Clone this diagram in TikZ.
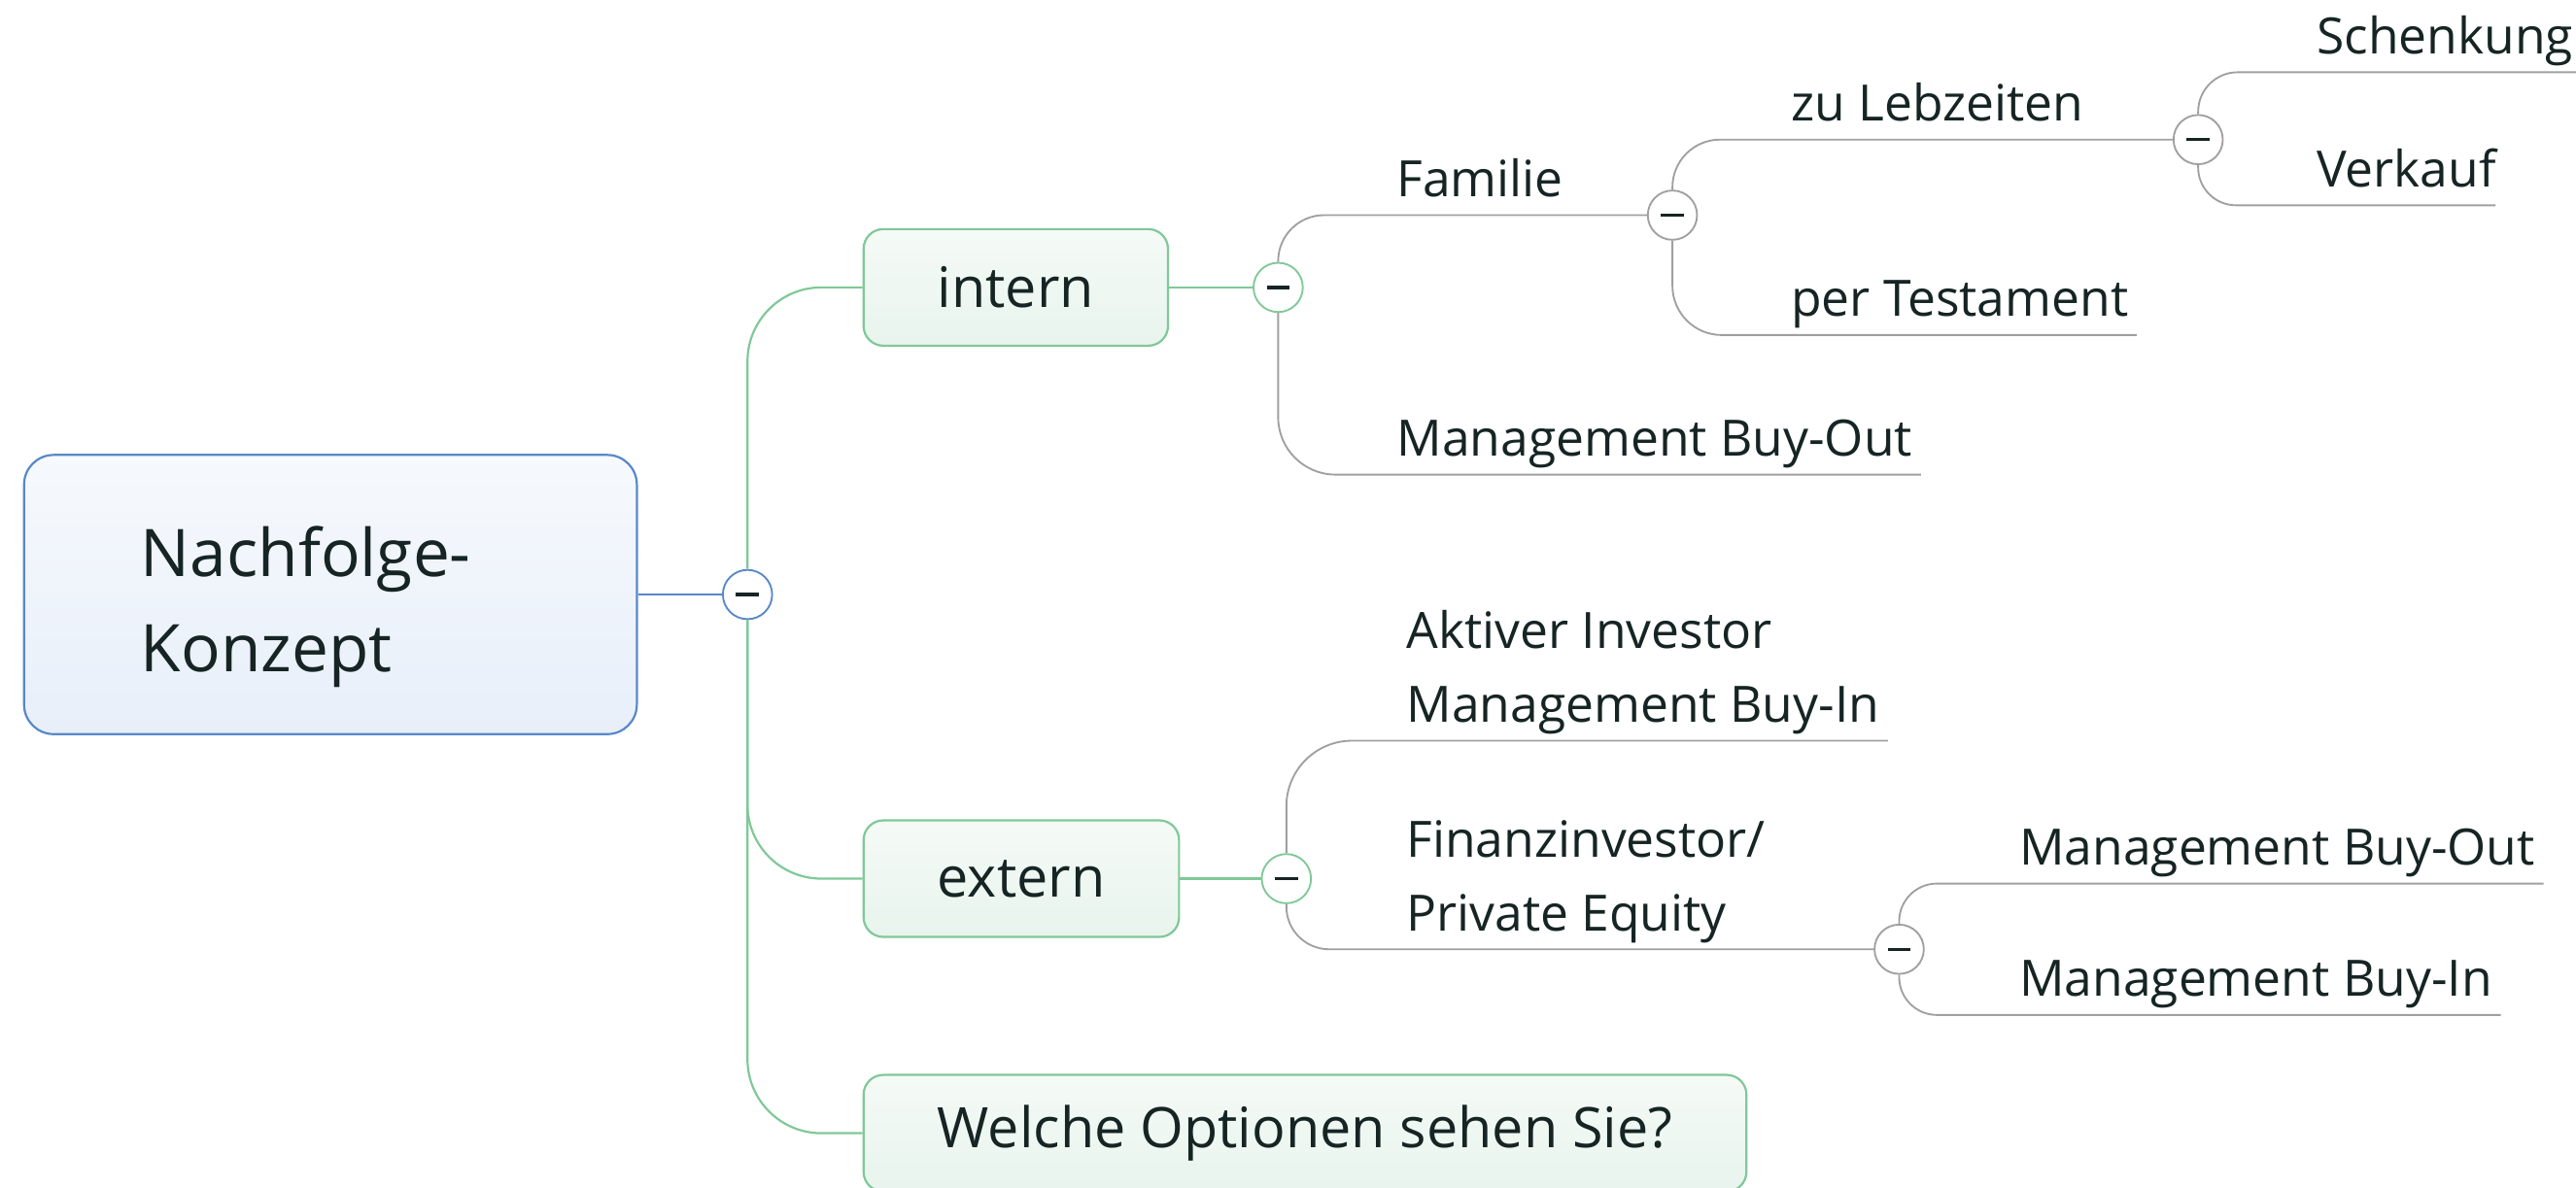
\documentclass[tikz,border=0pt]{standalone}
\usepackage{fontspec}
\setmainfont{Open Sans}
\definecolor{rootline}{RGB}{88,136,200}
\definecolor{roottop}{RGB}{246,249,253}
\definecolor{rootbottom}{RGB}{232,239,249}
\definecolor{topicline}{RGB}{128,200,152}
\definecolor{topictop}{RGB}{245,250,247}
\definecolor{topicbottom}{RGB}{232,244,237}
\definecolor{branchline}{RGB}{160,160,160}
\definecolor{inktext}{RGB}{22,36,36}

\begin{document}
\begin{tikzpicture}[x=1pt, y=-1pt,
  root/.style={draw=rootline, line width=1.3pt, rounded corners=18pt, top color=roottop, bottom color=rootbottom, anchor=west, align=left, text width=231pt, inner xsep=71pt, minimum height=170pt, text height=53.6pt, text=inktext, font=\fontsize{40}{58}\selectfont},
  topic/.style={draw=topicline, line width=1.3pt, rounded corners=12pt, top color=topictop, bottom color=topicbottom, anchor=west, inner xsep=45pt, minimum height=71pt, text=inktext, font=\fontsize{34}{40}\selectfont},
  sub/.style={anchor=south west, inner xsep=5pt, inner ysep=0pt, text depth=11pt, text=inktext, font=\fontsize{30.5}{45}\selectfont},
  collapse/.style={circle, draw=#1, line width=1.1pt, fill=white, minimum size=30pt, inner sep=0pt, path picture={\draw[line width=2pt, inktext] ([xshift=-7pt]path picture bounding box.center) -- ([xshift=7pt]path picture bounding box.center);}},
  rootlink/.style={draw=rootline, line width=1.3pt},
  topiclink/.style={draw=topicline, line width=1.3pt, rounded corners=45pt},
  sublink/.style={draw=branchline, line width=1.1pt, rounded corners=#1},
  sublink/.default=26pt]
\useasboundingbox (0,0) rectangle (1568,723);

\node[root] (konzept) at (14,362) {\begin{tabular}[t]{@{}l@{}}Nachfolge-\\Konzept\end{tabular}};
\node[collapse=rootline] (fk) at (455,362) {};

\node[topic] (intern) at (525,175) {intern};
\node[topic] (extern) at (525,535) {extern};
\node[topic] (welche) at (525,690) {Welche Optionen sehen Sie?};
\node[collapse=topicline] (ci) at (778,175) {};
\node[collapse=topicline] (ce) at (783,535) {};

\node[sub] (familie) at (845,131) {Familie};
\node[sub] (mbo) at (845,289) {Management Buy-Out};
\node[collapse=branchline] (cf) at (1018,131) {};
\node[sub] (lebzeiten) at (1085,85) {zu Lebzeiten};
\node[sub] (testament) at (1085,204) {per Testament};
\node[collapse=branchline] (cz) at (1338,85) {};
\node[sub] (schenkung) at (1405,44) {Schenkung};
\node[sub] (verkauf) at (1405,125) {Verkauf};
\coordinate (schenkung-end) at (1570,44);
\coordinate (verkauf-end) at (1519,125);

\node[sub] (aktiv) at (851,451) {\begin{tabular}[b]{@{}l@{}}Aktiver Investor\\Management Buy-In\end{tabular}};
\node[sub] (finanz) at (851,578) {\begin{tabular}[b]{@{}l@{}}Finanzinvestor/\\Private Equity\end{tabular}};
\node[collapse=branchline] (cp) at (1156,578) {};
\node[sub] (pe-mbo) at (1224,538) {Management Buy-Out};
\node[sub] (pe-mbi) at (1224,618) {Management Buy-In};

\draw[rootlink] (konzept.east) -- (fk.west);
\draw[topiclink] (fk.north) |- (intern.west);
\draw[topiclink] (fk.south) |- (extern.west);
\draw[topiclink] (fk.south) |- (welche.west);
\draw[topiclink] (intern.east) -- (ci.west);
\draw[topiclink] (extern.east) -- (ce.west);

\draw[sublink=28pt] (ci.north) |- (cf.west);
\draw[sublink=35pt] (ci.south) |- (mbo.south east);
\draw[sublink=29pt] (cf.north) |- (cz.west);
\draw[sublink=30pt] (cf.south) |- (testament.south east);
\draw[sublink=24pt] (cz.north) |- (schenkung-end);
\draw[sublink=23pt] (cz.south) |- (verkauf-end);

\draw[sublink=40pt] (ce.north) |- (aktiv.south east);
\draw[sublink=26pt] (ce.south) |- (cp.west);
\draw[sublink=23pt] (cp.north) |- (pe-mbo.south east);
\draw[sublink=23pt] (cp.south) |- (pe-mbi.south east);
\end{tikzpicture}
\end{document}
